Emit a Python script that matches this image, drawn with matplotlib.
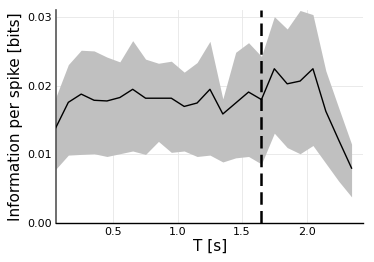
import numpy as np
import matplotlib.pyplot as plt

# window durations (s)
T = [0.05, 0.15, 0.25, 0.35, 0.45, 0.55, 0.65, 0.75, 0.85, 0.95, 1.05, 1.15,
     1.25, 1.35, 1.45, 1.55, 1.65, 1.75, 1.85, 1.95, 2.05, 2.15, 2.25, 2.35]

# mean information per spike
info_mean = [0.0138, 0.0176, 0.0188, 0.0179, 0.0178, 0.0183, 0.0195, 0.0182,
             0.0182, 0.0182, 0.0170, 0.0175, 0.0195, 0.0159, 0.0175, 0.0191,
             0.0180, 0.0225, 0.0203, 0.0207, 0.0225, 0.0163, 0.0121, 0.0080]

# upper / lower band
info_hi = [0.0182, 0.0231, 0.0252, 0.0251, 0.0242, 0.0235, 0.0266, 0.0239,
           0.0233, 0.0236, 0.0220, 0.0234, 0.0265, 0.0181, 0.0249, 0.0263,
           0.0243, 0.0301, 0.0283, 0.0310, 0.0304, 0.0222, 0.0168, 0.0115]
info_lo = [0.0078, 0.0099, 0.0100, 0.0101, 0.0097, 0.0101, 0.0105, 0.0100,
           0.0119, 0.0103, 0.0105, 0.0097, 0.0099, 0.0089, 0.0095, 0.0097,
           0.0086, 0.0131, 0.0110, 0.0101, 0.0113, 0.0087, 0.0061, 0.0038]

t_mark = 1.65

fig = plt.figure(figsize=(3.74, 2.62), dpi=100)
ax = fig.add_axes([0.15, 0.149, 0.821, 0.811])

ax.fill_between(T, info_lo, info_hi, color='#c0c0c0', linewidth=0, zorder=1)
ax.plot(T, info_mean, color='black', linewidth=1.0, zorder=3)
ax.axvline(t_mark, color='black', linewidth=1.8, linestyle=(0, (5, 2.5)), zorder=4)

ax.set_xlim(0.055, 2.44)
ax.set_ylim(0, 0.031)
ax.set_xticks([0.5, 1.0, 1.5, 2.0])
ax.set_yticks([0.0, 0.01, 0.02, 0.03])
ax.set_yticklabels(['0.00', '0.01', '0.02', '0.03'])
ax.tick_params(length=0, labelsize=8, pad=3)
ax.grid(True, color='#e6e6e6', linewidth=0.6, zorder=0)
ax.set_axisbelow(True)

for s in ['top', 'right']:
    ax.spines[s].set_visible(False)
ax.spines['left'].set_color('#555555')
ax.spines['left'].set_linewidth(1.2)
ax.spines['bottom'].set_linewidth(1.0)

ax.set_xlabel('T [s]', fontsize=11, labelpad=1)
ax.set_ylabel('Information per spike [bits]', fontsize=11, labelpad=3)

fig.savefig('out.png', dpi=100)
